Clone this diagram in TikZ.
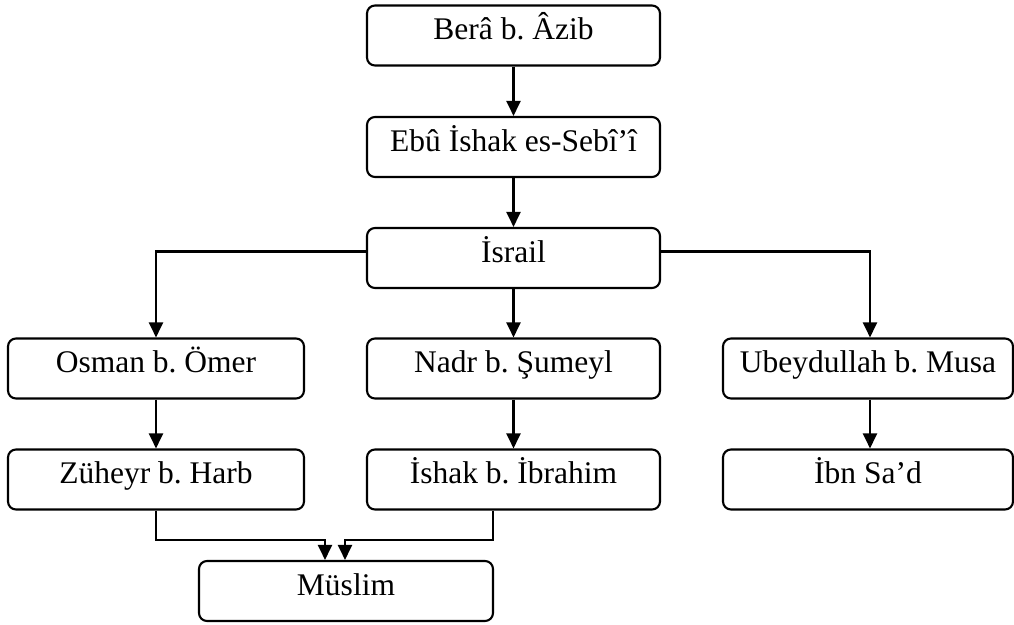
\documentclass[tikz,border=0pt]{standalone}
\usepackage{fontspec}
\setmainfont{Liberation Serif}
\usetikzlibrary{arrows.meta}
\frenchspacing
\tikzset{
  box/.style={draw, line width=2.1pt, rounded corners=8pt, minimum height=60pt,
    inner sep=0pt, text height=22pt, text depth=14pt, align=center,
    font=\fontsize{31.5}{36}\selectfont\frenchspacing},
  conn/.style={line width=2.1pt, -{Triangle[length=15pt,width=14pt]}}
}
\begin{document}
\begin{tikzpicture}[x=1pt,y=1pt]
\useasboundingbox (0,0) rectangle (1014,-624);
\node[box, minimum width=293pt] (bera) at (513.5,-35.5) {Berâ b. Âzib};
\node[box, minimum width=293pt] (ebu) at (513.5,-147) {Ebû İshak es-Sebî’î};
\node[box, minimum width=293pt] (israil) at (513.5,-258) {İsrail};
\node[box, minimum width=296pt] (osman) at (156,-368.5) {Osman b. Ömer};
\node[box, minimum width=293pt] (nadr) at (513.5,-368.5) {Nadr b. Şumeyl};
\node[box, minimum width=290pt] (ubey) at (868,-368.5) {Ubeydullah b. Musa};
\node[box, minimum width=296pt] (zuh) at (156,-479.5) {Züheyr b. Harb};
\node[box, minimum width=293pt] (ishak) at (513.5,-479.5) {İshak b. İbrahim};
\node[box, minimum width=290pt] (ibnsad) at (868,-479.5) {İbn Sa’d};
\node[box, minimum width=294pt] (muslim) at (346,-591) {Müslim};

\draw[conn] (bera.south) -- (ebu.north);
\draw[conn] (ebu.south) -- (israil.north);
\draw[conn] (israil.south) -- (nadr.north);
\draw[conn] ([yshift=6.5pt]israil.west) -| (osman.north);
\draw[conn] ([yshift=6.5pt]israil.east) -| ([xshift=2pt]ubey.north);
\draw[conn] (osman.south) -- (zuh.north);
\draw[conn] (nadr.south) -- (ishak.north);
\draw[conn] ([xshift=2pt]ubey.south) -- ([xshift=2pt]ibnsad.north);
\coordinate (zdown) at ([yshift=-29.5pt]zuh.south);
\coordinate (idown) at ([xshift=-20.5pt,yshift=-29.5pt]ishak.south);
\draw[conn] (zuh.south) -- (zdown) -| ([xshift=-21pt]muslim.north);
\draw[conn] ([xshift=-20.5pt]ishak.south) -- (idown) -| ([xshift=-1pt]muslim.north);
\end{tikzpicture}
\end{document}
